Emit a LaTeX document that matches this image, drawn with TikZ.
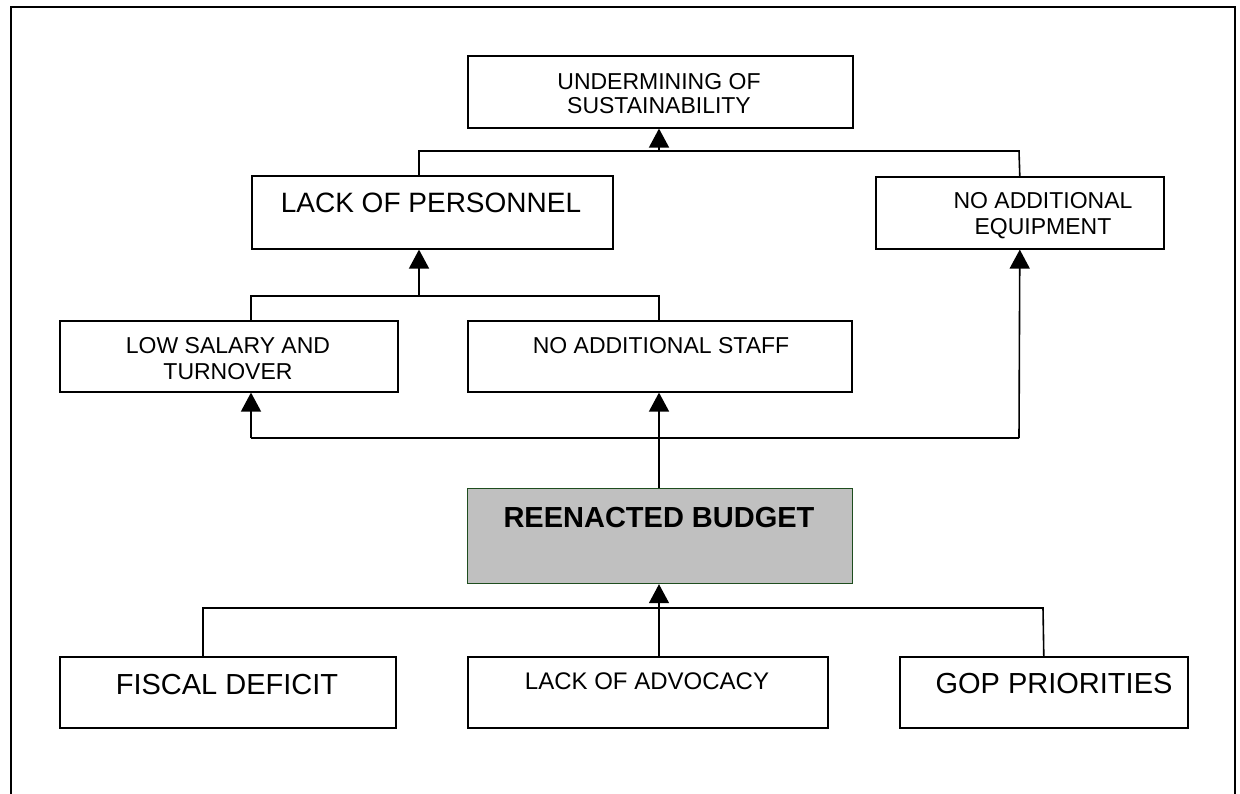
\documentclass[tikz,border=0pt]{standalone}
\usepackage{fontspec}
\setmainfont{Liberation Sans}
\usetikzlibrary{arrows.meta}
\definecolor{rbgray}{HTML}{C0C0C0}
\definecolor{rbgreen}{HTML}{1E4D1E}
\begin{document}
\begin{tikzpicture}[x=1pt,y=-1pt,
  box/.style={draw, line width=1.6pt, inner sep=0pt, anchor=north west},
  txt/.style={anchor=base, inner sep=0pt},
  fa/.style={font=\fontsize{23}{24}\selectfont},
  fb/.style={font=\fontsize{28}{30}\selectfont},
  fc/.style={font=\fontsize{29}{30}\selectfont},
  fl/.style={font=\fontsize{24}{26}\selectfont},
  conn/.style={line width=1.6pt},
  arr/.style={conn, -{Triangle[length=19pt,width=20pt]}}]
\useasboundingbox (0,0) rectangle (1240,794);
% frame
\draw[line width=1.6pt] (11,794) -- (11,7) -- (1235,7) -- (1235,794);
% boxes
\node[box, minimum width=385pt, minimum height=72pt] (U) at (467,55) {};
\node[box, minimum width=361pt, minimum height=73pt] (LP) at (251,175) {};
\node[box, minimum width=288pt, minimum height=72pt] (NAE) at (875,176) {};
\node[box, minimum width=338pt, minimum height=71pt] (LS) at (59,320) {};
\node[box, minimum width=384pt, minimum height=71pt] (NAS) at (467,320) {};
\node[box, line width=1.2pt, fill=rbgray, draw=rbgreen, minimum width=385pt, minimum height=95pt] (RB) at (467,488) {};
\node[box, minimum width=336pt, minimum height=71pt] (FD) at (59,656) {};
\node[box, minimum width=360pt, minimum height=71pt] (LA) at (467,656) {};
\node[box, minimum width=288pt, minimum height=71pt] (GP) at (899,656) {};
% texts
\node[txt, fa] (Ut1) at (659,90) {UNDERMINING OF};
\node[txt, fa] (Ut2) at (659,114) {SUSTAINABILITY};
\node[txt, fb] (LPt) at (431,213) {LACK OF PERSONNEL};
\node[txt, fa] (NAEt1) at (1043,209) {NO ADDITIONAL};
\node[txt, fa] (NAEt2) at (1043,235) {EQUIPMENT};
\node[txt, fa] (LSt1) at (228,353) {LOW SALARY AND};
\node[txt, fa] (LSt2) at (228,380) {TURNOVER};
\node[txt, fa] (NASt) at (661,353) {NO ADDITIONAL STAFF};
\node[txt, fc, font=\fontsize{29}{30}\selectfont\bfseries] (RBt) at (659,527) {REENACTED BUDGET};
\node[txt, fc] (FDt) at (227,694) {FISCAL DEFICIT};
\node[txt, fl] (LAt) at (647,689) {LACK OF ADVOCACY};
\node[txt, fc] (GPt) at (1054,693) {GOP PRIORITIES};
% junction points
\coordinate (jLP) at (419,151);
\coordinate (jU) at (659,151);
\coordinate (jNAE) at (1019,151);
\coordinate (jLS) at (251,296);
\coordinate (jLPb) at (419,296);
\coordinate (jNAS) at (659,296);
\coordinate (kLS) at (251,438);
\coordinate (kRB) at (659,438);
\coordinate (kNAE) at (1019,438);
\coordinate (bFD) at (203,608);
\coordinate (bLA) at (659,608);
\coordinate (bGP) at (1043,608);
% connectors
\draw[conn] (jLP |- LP.north) -- (jLP) -- (jNAE) -- (NAE.north);
\draw[arr] (jU) -- (jU |- U.south);
\draw[conn] (jLS |- LS.north) -- (jLS) -- (jNAS) -- (jNAS |- NAS.north);
\draw[arr] (jLPb) -- (jLPb |- LP.south);
\draw[conn] (kLS) -- (kNAE);
\draw[arr] (kLS) -- (kLS |- LS.south);
\draw[arr] (kNAE) -- (NAE.south);
\draw[arr] (kRB |- RB.north) -- (kRB |- NAS.south);
\draw[conn] (bFD |- FD.north) -- (bFD) -- (bGP) -- (GP.north);
\draw[arr] (bLA |- LA.north) -- (bLA |- RB.south);
\end{tikzpicture}
\end{document}
